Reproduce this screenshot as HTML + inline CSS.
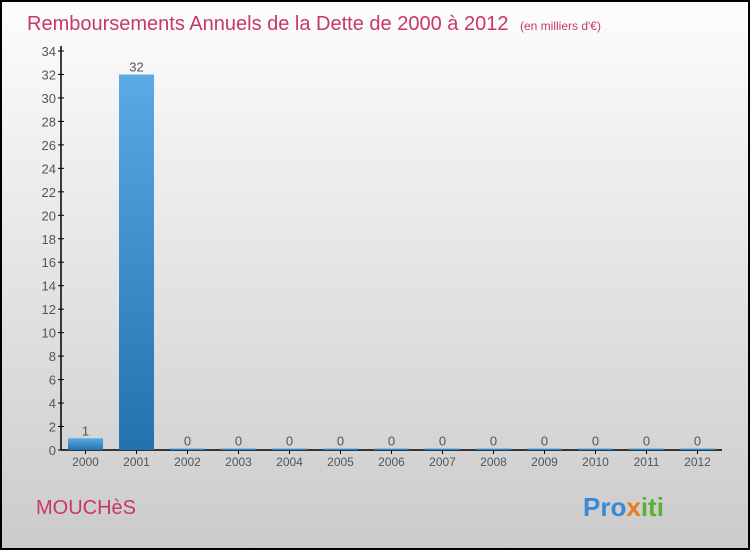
<!DOCTYPE html>
<html><head><meta charset="utf-8"><style>
body{margin:0;width:750px;height:550px;overflow:hidden;font-family:"Liberation Sans",sans-serif}
</style></head><body>
<svg width="750" height="550" xmlns="http://www.w3.org/2000/svg">
<defs>
<linearGradient id="bg" x1="0" y1="0" x2="0" y2="1"><stop offset="0" stop-color="#fdfdfd"/><stop offset="1" stop-color="#cbcbcb"/></linearGradient>
<linearGradient id="bar" x1="0" y1="0" x2="0" y2="1"><stop offset="0" stop-color="#5aaae6"/><stop offset="1" stop-color="#2272ae"/></linearGradient>
</defs>
<rect x="1" y="1" width="748" height="548" fill="url(#bg)" stroke="#000" stroke-width="2"/>
<text x="27" y="30" font-size="20" fill="#c8366e">Remboursements Annuels de la Dette de 2000 à 2012 <tspan font-size="12" dx="6">(en milliers d'€)</tspan></text>
<g id="axes"></g>
<g id="bars"></g>
<text x="36" y="514" font-size="20" fill="#c8366e">MOUCHèS</text>
<text x="583" y="516" font-size="26" font-weight="bold"><tspan fill="#3a8ad8">Pro</tspan><tspan fill="#e87a1a">x</tspan><tspan fill="#5ab030">iti</tspan></text>
</svg>
<script>
const categories=["2000","2001","2002","2003","2004","2005","2006","2007","2008","2009","2010","2011","2012"];
const values=[1,32,0,0,0,0,0,0,0,0,0,0,0];
const yTicks=[0,2,4,6,8,10,12,14,16,18,20,22,24,26,28,30,32,34];
const NS="http://www.w3.org/2000/svg";
const x0=61,band=51,yBase=450,yTop=51,yMax=34;
const y=v=>yBase-(v/yMax)*(yBase-yTop);
const xc=i=>x0+band*i+24.5;
function mk(t,a,p,txt){const e=document.createElementNS(NS,t);for(const k in a)e.setAttribute(k,a[k]);if(txt!==undefined)e.textContent=txt;p.appendChild(e);return e;}
const ax=document.getElementById('axes'),bs=document.getElementById('bars');
let l=mk('line',{x1:x0,y1:yTop-5,x2:x0,y2:yBase,stroke:'#000','stroke-width':1.5},ax);


l=mk('line',{x1:x0,y1:yBase,x2:x0+band*13-2,y2:yBase,stroke:'#000','stroke-width':1.5},ax);


yTicks.forEach(t=>{
 mk('line',{x1:x0-3,y1:y(t),x2:x0+3,y2:y(t),stroke:'#000'},ax);
 const e=mk('text',{x:x0-5,y:y(t)+5,'font-size':13,fill:'#555','text-anchor':'end'},ax,t);
 
 
});
categories.forEach((c,i)=>{
 mk('line',{x1:xc(i),y1:yBase,x2:xc(i),y2:yBase+4,stroke:'#000'},ax);
 const e=mk('text',{x:xc(i),y:yBase+16,'font-size':12,fill:'#555','text-anchor':'middle'},ax,c);
 
 
 const v=values[i],h=Math.max(yBase-y(v),1.5);
 const r=mk('rect',{x:xc(i)-17.5,y:yBase-h,width:35,height:h,fill:'url(#bar)'},bs);
 
 
 const lb=mk('text',{x:xc(i),y:yBase-h-3,'font-size':13,fill:'#555','text-anchor':'middle'},bs,v);
 
 
});
</script>
</body></html>
